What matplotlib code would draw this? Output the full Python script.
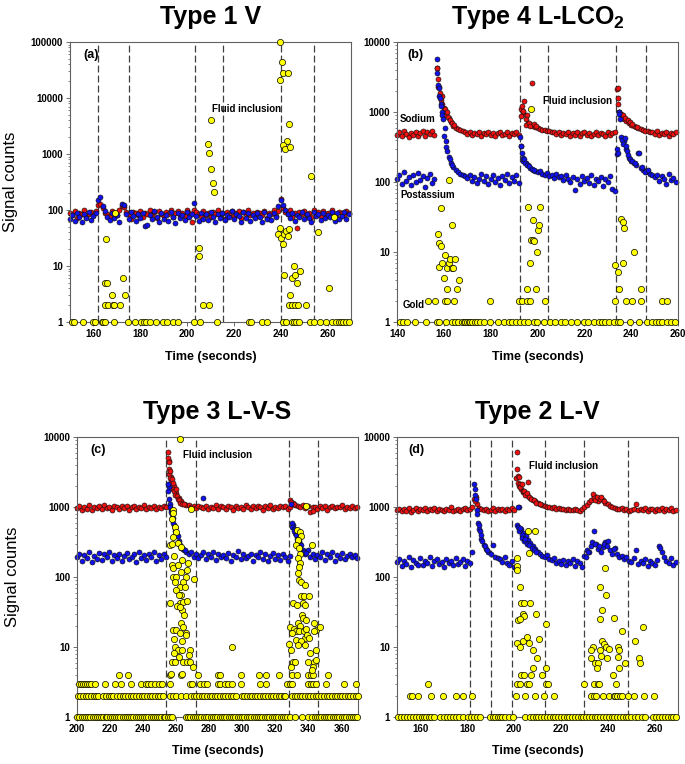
import numpy as np
import matplotlib.pyplot as plt
from matplotlib.ticker import LogLocator, FuncFormatter, NullFormatter

plt.rcParams['font.family'] = ['Liberation Sans', 'DejaVu Sans']
plt.rcParams['font.weight'] = 'bold'
plt.rcParams['mathtext.fontset'] = 'custom'
plt.rcParams['mathtext.rm'] = 'Liberation Sans:bold'
plt.rcParams['mathtext.it'] = 'Liberation Sans:bold'
plt.rcParams['mathtext.bf'] = 'Liberation Sans:bold'
plt.rcParams['mathtext.default'] = 'rm'

# ---------------- panel (a) Type 1 V ----------------
a_time = np.arange(150, 270)
a_na = [88, 80, 95, 72, 90, 84, 99, 76, 86, 92,
        81, 95, 125, 130, 110, 90, 84, 78, 96, 88,
        82, 100, 120, 115, 92, 85, 70, 94, 87, 80,
        98, 76, 89, 84, 102, 80, 91, 73, 95, 86,
        79, 93, 85, 99, 74, 88, 96, 82, 90, 77,
        102, 87, 60, 100, 92, 85, 78, 97, 83, 90,
        75, 94, 86, 101, 80, 89, 70, 93, 84, 98,
        79, 88, 95, 73, 91, 85, 100, 82, 87, 76,
        94, 89, 81, 97, 72, 90, 86, 99, 78, 95,
        160, 110, 92, 84, 100, 76, 89, 48, 93, 85,
        97, 80, 88, 74, 102, 86, 92, 79, 95, 84,
        90, 77, 99, 85, 73, 94, 88, 81, 96, 87]
a_k = [70, 82, 64, 90, 75, 60, 85, 72, 93, 67,
       78, 88, 150, 170, 120, 95, 74, 66, 89, 71,
       80, 62, 130, 125, 86, 69, 92, 77, 64, 84,
       73, 90, 52, 55, 81, 68, 95, 74, 61, 87,
       70, 83, 65, 92, 76, 59, 88, 72, 80, 66,
       91, 74, 85, 135, 78, 63, 89, 70, 84, 67,
       93, 75, 61, 86, 72, 90, 66, 81, 74, 95,
       68, 84, 77, 62, 91, 73, 87, 65, 80, 71,
       88, 76, 60, 94, 70, 83, 67, 89, 74, 120,
       150, 125, 100, 85, 72, 90, 64, 80, 76, 93,
       69, 86, 73, 61, 92, 78, 84, 66, 90, 71,
       82, 75, 94, 63, 87, 70, 79, 91, 68, 85]
a_gold_1 = [150.7, 151.7, 155.7, 159.7, 160.8, 163.5, 164.2, 164.9, 168.7, 174.8,
            177.7, 180.3, 181.5, 182.6, 184.3, 186.9, 189.7, 191.6, 194.0, 196.1,
            202.9, 205.7, 212.8, 226.6, 227.3, 231.8, 234.1, 240.8, 242.2, 244.6,
            245.8, 246.5, 247.9, 252.4, 254.3, 256.7, 259.5, 261.8, 263.5, 264.9,
            265.6, 266.5, 268.0, 269.3]
a_gold_pts = [(165.3, 30), (165.0, 5), (166.0, 5), (165.0, 2), (166.2, 2), (168.0, 3),
              (168.4, 2), (169.0, 2), (171.5, 2), (172.5, 6), (173.3, 3), (169.3, 90),
              (205.0, 21), (205.3, 15), (207.0, 2), (209.4, 2), (209.0, 1500), (209.2, 1050),
              (210.2, 4000), (210.4, 550), (211.0, 310), (211.4, 210),
              (239.5, 100000), (240.5, 44000), (239.8, 21000), (240.9, 28000), (242.9, 28000),
              (243.4, 3500), (242.6, 1700), (240.9, 1450), (241.9, 1250), (244.0, 1350),
              (238.9, 37), (239.5, 48), (240.3, 32), (240.9, 25), (241.4, 38), (242.3, 42),
              (242.9, 34), (243.7, 45), (241.4, 7), (244.0, 3), (244.8, 6), (245.7, 10),
              (246.3, 7), (247.0, 5), (248.4, 8), (243.4, 2), (244.8, 2), (246.0, 2),
              (247.4, 2), (250.8, 2), (252.8, 410), (255.7, 40), (260.7, 4), (262.7, 75)]
a_lines = [162, 175, 203.5, 215.5, 240, 254]

# ---------------- panel (b) Type 4 L-LCO2 ----------------
b_time = np.arange(140, 260)
b_na = [470, 510, 455, 530, 490, 440, 505, 475, 520, 460,
        495, 540, 450, 515, 480, 530, 465, 4200, 2300, 1700,
        1150, 950, 820, 720, 640, 600, 570, 545, 530, 515,
        490, 525, 470, 505, 480, 515, 460, 500, 485, 520,
        470, 505, 450, 495, 525, 465, 490, 510, 455, 500,
        480, 520, 470, 1100, 950, 800, 700, 660, 640, 620,
        600, 580, 560, 545, 530, 540, 510, 525, 490, 515,
        470, 505, 485, 520, 460, 500, 475, 510, 450, 495,
        520, 470, 500, 455, 490, 515, 465, 505, 480, 460,
        510, 475, 495, 520, 2100, 1000, 880, 800, 740, 700,
        660, 640, 610, 590, 570, 555, 540, 530, 520, 510,
        490, 530, 470, 505, 485, 520, 460, 500, 480, 510]
b_k = [110, 125, 95, 140, 105, 118, 90, 128, 100, 135,
       108, 122, 85, 115, 130, 98, 112, 5800, 1700, 1000,
       450, 320, 230, 190, 165, 150, 140, 132, 128, 122,
       115, 125, 105, 118, 98, 112, 130, 102, 120, 95,
       110, 128, 100, 115, 90, 122, 108, 132, 96, 118,
       104, 125, 98, 330, 200, 185, 175, 160, 150, 142,
       138, 145, 130, 128, 135, 120, 126, 115, 130, 118,
       122, 108, 125, 112, 100, 118, 78, 110, 95, 120,
       105, 115, 98, 125, 92, 110, 104, 118, 88, 112,
       100, 120, 80, 75, 250, 1000, 420, 380, 300, 220,
       200, 190, 175, 260, 160, 150, 145, 138, 130, 125,
       118, 128, 105, 122, 112, 95, 130, 108, 115, 100]
b_na_pts = [(157.0, 4300), (157.3, 3000), (157.6, 2300), (158.2, 1900), (158.6, 1500),
            (159.3, 1300), (160.4, 1100), (160.7, 900), (161.3, 1000), (161.6, 850),
            (162.5, 780), (163.5, 700), (164.5, 650), (193.3, 1200), (193.6, 1000),
            (194.0, 1050), (194.3, 1450), (193.0, 870), (195.0, 650), (195.5, 900),
            (196.5, 700), (197.0, 640), (197.7, 2600), (198.5, 680), (199.5, 630),
            (234.2, 2200), (234.5, 1600), (234.4, 1300), (234.8, 1000), (235.5, 950),
            (236.0, 850), (236.5, 900), (237.5, 820), (238.5, 760), (239.5, 720),
            (240.5, 680), (242.5, 620)]
b_k_pts = [(157.1, 3600), (157.5, 2400), (157.8, 2200), (158.3, 1600), (158.6, 1300),
           (158.9, 1200), (159.4, 900), (159.7, 800), (160.3, 600), (160.8, 380),
           (161.5, 280), (162.5, 210), (163.5, 175), (192.6, 440), (192.8, 330),
           (193.3, 260), (193.6, 220), (194.3, 210), (194.6, 190), (195.5, 175),
           (196.5, 170), (197.5, 155), (198.5, 150), (233.8, 300), (234.2, 260),
           (234.6, 950), (235.2, 800), (235.5, 440), (236.2, 400), (236.6, 350),
           (237.3, 420), (237.7, 330), (238.3, 280), (238.7, 240), (239.5, 215),
           (240.5, 200), (241.5, 185), (243.2, 260), (244.5, 165), (246.0, 140),
           (247.0, 150)]
b_gold_1 = [141.3, 142.7, 144.1, 147.7, 152.4, 157.2, 158.1, 160.9, 163.4, 164.8,
            166.2, 167.6, 168.4, 169.1, 169.8, 170.6, 171.3, 172.1, 173.2, 174.2,
            175.5, 177.1, 179.6, 183.2, 185.6, 187.7, 189.1, 190.9, 192.4, 194.1,
            195.9, 198.4, 199.8, 202.7, 205.5, 207.6, 210.1, 211.9, 214.1, 216.9,
            219.8, 221.5, 224.1, 226.2, 227.6, 229.0, 230.5, 232.6, 234.3, 235.4,
            239.7, 243.3, 246.8, 249.0, 250.4, 251.8, 253.2, 255.4, 256.8, 258.5]
b_gold_2 = [153.4, 156.2, 160.6, 161.5, 164.4, 179.9, 192.0, 193.4, 195.3, 197.0,
            203.4, 233.3, 237.6, 240.4, 244.4, 253.2, 255.4]
b_gold_pts = [(157.7, 17.9), (158.1, 13.3), (158.7, 12), (158.7, 42), (158.1, 6.1),
              (159.1, 6.9), (160.5, 9), (161.2, 6), (162.1, 7), (162.7, 8), (163.3, 6),
              (164.8, 8), (164.1, 6), (160.1, 4.2), (161.2, 3), (165.8, 3), (166.4, 4),
              (162.1, 108), (163.4, 24),
              (196.0, 43.6), (201.0, 43.6), (198.0, 28.6), (197.4, 15), (198.1, 14.8),
              (198.7, 14.2), (197.0, 6.9), (199.8, 10.1), (200.0, 20.6), (200.5, 24.2),
              (195.3, 3), (199.5, 3), (197.3, 1100),
              (233.3, 6.5), (234.4, 5.1), (235.0, 3), (235.8, 29.6), (236.4, 26.6),
              (237.1, 21.8), (236.5, 7), (241.4, 10.1), (244.0, 3)]
b_lines = [192.5, 204.5, 233.5, 246.5]

# ---------------- panel (c) Type 3 L-V-S ----------------
c_time = np.arange(200, 370, 1.5)
c_na = [980, 1040, 920, 1010, 950, 1060, 900, 1000, 970, 1030,
        940, 1070, 960, 1005, 910, 1045, 985, 930, 1020, 955,
        1050, 915, 990, 1035, 945, 1000, 965, 1080, 925, 1010,
        975, 1040, 935, 1015, 960, 1025, 990, 4600, 2700, 2000,
        1600, 1350, 1200, 1110, 1060, 1080, 1010, 1050, 970, 1030,
        1000, 960, 1040, 925, 1010, 980, 1060, 940, 1020, 990,
        950, 1035, 1000, 915, 1050, 970, 1010, 940, 1065, 985,
        930, 1020, 960, 1045, 990, 910, 1030, 975, 1055, 945,
        1005, 960, 1040, 985, 1020, 950, 1010, 1150, 1080, 1040,
        1000, 1060, 980, 1020, 850, 990, 1010, 940, 1030, 970,
        1050, 920, 1000, 1035, 960, 1015, 985, 1070, 940, 1010,
        975, 1040, 955, 1000]
c_k = [190, 215, 170, 205, 185, 225, 165, 200, 180, 220,
       175, 210, 195, 230, 168, 205, 188, 215, 172, 200,
       220, 178, 195, 210, 165, 225, 185, 205, 175, 215,
       190, 228, 170, 208, 182, 212, 195, 1900, 900, 550,
       420, 330, 270, 240, 225, 210, 230, 195, 215, 185,
       205, 225, 180, 210, 195, 230, 175, 215, 190, 208,
       185, 220, 170, 205, 195, 235, 178, 210, 188, 200,
       215, 172, 205, 190, 225, 180, 210, 168, 200, 220,
       183, 205, 175, 215, 192, 170, 200, 560, 420, 330,
       260, 225, 210, 240, 195, 215, 180, 205, 190, 225,
       175, 210, 195, 228, 168, 205, 185, 220, 178, 200,
       215, 190, 205, 185]
c_na_pts = [(255.0, 6100), (255.2, 5000), (255.6, 4400), (255.4, 3500), (255.8, 3000),
            (256.2, 3300), (256.5, 2600), (256.8, 2300), (257.5, 2500), (257.8, 2200),
            (258.0, 1800), (258.8, 1700), (259.3, 1500), (259.7, 1800), (260.5, 1450),
            (261.3, 1300), (262.0, 1250), (262.5, 1150), (263.5, 1120), (264.5, 1100),
            (328.8, 1250), (329.5, 1180), (331.0, 1100), (343.0, 870)]
c_k_pts = [(255.0, 2100), (255.3, 1700), (255.7, 1300), (256.0, 1100), (256.3, 1000),
           (256.6, 850), (257.4, 800), (257.8, 700), (258.2, 600), (259.0, 500),
           (259.5, 450), (260.5, 400), (261.0, 380), (262.0, 300), (262.5, 290),
           (263.0, 260), (264.0, 250), (265.5, 240), (276.0, 1350), (329.3, 1100),
           (329.8, 600), (330.2, 520), (331.0, 480), (331.5, 450), (332.5, 400),
           (333.0, 350), (334.2, 330), (334.8, 300), (335.5, 290), (336.5, 240),
           (337.5, 230), (338.5, 220)]
c_gold_1 = [200.3, 201.5, 202.9, 204.1, 205.6, 206.8, 208.0, 209.5, 210.6, 212.0,
            213.4, 214.5, 215.9, 217.3, 218.4, 219.8, 221.2, 222.3, 223.7, 225.1,
            226.2, 227.6, 229.0, 230.1, 231.5, 232.9, 234.0, 235.4, 236.8, 237.9,
            239.3, 240.7, 241.8, 243.2, 244.6, 245.7, 247.1, 248.5, 249.6, 251.0,
            252.4, 253.5, 254.9, 256.3, 257.6,
            265.8, 267.1, 268.5, 269.9, 271.2, 272.6, 274.0, 275.3, 276.7, 278.1,
            279.4, 280.8, 282.2, 283.5, 284.9, 286.3, 287.6, 289.0, 290.4, 291.7,
            293.1, 294.5, 295.8, 297.2, 298.6, 299.9, 301.3, 302.7, 304.0, 305.4,
            306.8, 308.1, 309.5, 310.9, 312.2, 313.6, 315.0, 316.3, 317.7, 319.1,
            320.4, 321.8, 323.2, 324.5, 325.9, 327.3, 328.6,
            331.9, 336.2, 339.6, 342.4, 343.8, 345.1, 346.5, 347.9, 349.2, 350.6,
            352.0, 353.3, 354.7, 356.1, 357.4, 358.8, 360.2, 361.5, 362.9, 364.3,
            365.6, 367.0, 368.4, 369.7]
c_gold_2 = [200.5, 202.1, 203.7, 205.3, 206.9, 208.5, 210.1, 211.7, 213.0, 216.0,
            217.6, 219.2, 220.8, 222.0, 224.5, 226.1, 227.7, 229.3, 230.9, 232.5,
            234.0, 236.0, 237.6, 239.2, 240.8, 242.4, 244.0, 245.6, 247.2, 248.8,
            250.0, 252.0, 256.4, 258.2, 260.1, 263.2, 266.0, 269.0, 270.6, 272.2,
            273.8, 275.4, 277.0, 278.6, 280.2, 281.8, 283.4, 285.0, 286.6, 288.2,
            289.8, 291.4, 293.0, 294.6, 296.5, 299.6, 301.2, 302.8, 304.4, 306.0,
            307.6, 309.2, 310.8, 312.4, 314.0, 315.6, 317.2, 318.8, 320.4, 322.0,
            323.6, 325.2, 326.0, 330.0, 331.6, 333.2, 334.8, 336.4, 338.0, 339.6,
            341.2, 342.8, 344.4, 346.0, 347.6, 349.2, 351.0, 352.6, 354.2, 355.8,
            357.4, 359.0, 360.6, 362.2, 363.8, 365.4, 367.0, 368.6, 369.8]
c_gold_3 = [201.0, 202.2, 203.6, 204.8, 206.0, 207.2, 208.5, 210.9, 216.9, 222.8,
            226.8, 232.9, 239.0, 241.5, 243.0, 245.0, 247.0, 249.6, 251.7, 256.1,
            268.2, 269.4, 274.2, 276.6, 278.6, 285.3, 286.7, 289.4, 291.4, 293.8,
            299.0, 310.5, 314.6, 327.0, 328.7, 330.3, 339.7, 341.8, 342.8, 344.4,
            350.9, 361.4, 369.0]
c_gold_4 = [225.2, 230.9, 256.1, 263.2, 273.4, 285.3, 286.7, 299.0, 310.0, 314.6,
            322.2, 330.3, 333.3, 340.0, 341.5, 342.6, 351.8]
c_gold_pts = [(262.1, 9270), (258.2, 906), (258.1, 830), (268.8, 946), (257.6, 667),
              (259.2, 523), (260.2, 444), (257.8, 377), (256.2, 287), (257.2, 300),
              (261.2, 310), (263.2, 271), (258.6, 200), (263.8, 175), (267.2, 157),
              (257.2, 148), (258.2, 133), (261.2, 148), (266.6, 126), (257.8, 101),
              (259.8, 101), (263.2, 119), (265.8, 101), (270.6, 94), (259.2, 86),
              (264.2, 86), (262.6, 73), (260.2, 65), (265.2, 73), (263.2, 55),
              (261.6, 55), (256.2, 42), (262.6, 42), (264.2, 44), (266.6, 46),
              (260.6, 38.5), (263.8, 33.8), (262.2, 37), (264.6, 28.6), (258.2, 17.5),
              (260.2, 17.5), (263.2, 21.8), (264.2, 19.3), (265.8, 16), (266.2, 14.8),
              (258.8, 12.9), (262.6, 15.7), (263.4, 12.3), (259.2, 10.1), (261.2, 9.1),
              (263.6, 9.1), (268.2, 9.1), (258.6, 8.3), (267.8, 7.8), (261.8, 7.3),
              (264.2, 6.2), (257.2, 6.2), (259.2, 6.2), (266.6, 6.2), (268.2, 6.2),
              (270.2, 5.1), (256.6, 4.1), (263.4, 4.1), (294.0, 10),
              (338.4, 1033), (342.4, 287), (333.1, 469), (334.7, 445), (335.7, 385),
              (333.7, 338), (332.7, 287), (334.3, 256), (335.1, 213), (333.7, 185),
              (334.7, 160), (334.3, 140), (333.7, 113), (334.3, 91), (335.7, 86),
              (337.7, 77), (335.7, 54), (337.1, 54), (340.3, 54), (330.7, 42),
              (333.1, 40), (336.7, 43), (337.7, 40), (336.3, 28.6), (336.7, 26),
              (338.3, 24), (333.7, 21.8), (335.1, 20), (328.7, 19), (331.1, 18.3),
              (332.7, 17), (334.3, 17), (337.1, 17), (338.7, 18), (343.5, 22.3),
              (344.7, 17.5), (347.2, 19), (343.1, 17), (330.3, 16), (337.7, 13.5),
              (339.1, 15), (328.3, 11), (332.7, 12.5), (335.7, 12.3), (333.7, 10.6),
              (337.7, 10.6), (340.3, 13.5), (341.1, 8.3), (344.7, 9.1), (329.3, 9.1),
              (330.7, 6.2), (331.7, 6.2), (339.7, 6.2), (343.1, 6.2), (329.7, 5.1),
              (342.7, 5.1), (344.3, 6.5), (341.9, 4.7)]
c_lines = [254, 272, 328, 346]

# ---------------- panel (d) Type 2 L-V ----------------
d_time = np.arange(150, 270)
d_na = [900, 950, 870, 930, 890, 960, 860, 920, 980, 880,
        940, 895, 965, 870, 925, 900, 955, 880, 935, 910,
        870, 945, 900, 985, 865, 920, 950, 890, 930, 975,
        905, 940, 1000, 1300, 1100, 960, 930, 900, 945, 880,
        920, 960, 890, 935, 905, 950, 875, 930, 910, 960,
        900, 2600, 2000, 1800, 1650, 1550, 1450, 1350, 1280, 1200,
        1150, 1100, 1080, 1040, 1010, 990, 960, 1000, 940, 970,
        930, 950, 900, 940, 915, 895, 930, 910, 880, 950,
        1000, 1080, 1180, 1250, 1450, 1300, 1200, 1350, 1250, 1150,
        1100, 1050, 1000, 970, 950, 930, 960, 900, 940, 880,
        920, 950, 1100, 895, 935, 905, 960, 870, 925, 950,
        890, 940, 910, 965, 880, 930, 900, 955, 870, 915]
d_k = [165, 180, 145, 170, 155, 190, 140, 175, 160, 150,
       185, 148, 172, 158, 195, 142, 168, 178, 152, 165,
       140, 182, 160, 170, 148, 188, 155, 165, 178, 145,
       168, 160, 230, 2100, 900, 480, 350, 290, 250, 225,
       215, 290, 195, 185, 178, 165, 190, 160, 150, 170,
       140, 130, 1000, 480, 420, 380, 340, 310, 280, 255,
       230, 215, 200, 190, 205, 180, 175, 185, 160, 170,
       155, 175, 148, 168, 160, 180, 145, 170, 158, 140,
       200, 240, 225, 280, 460, 300, 250, 230, 270, 320,
       330, 240, 215, 260, 210, 195, 200, 180, 190, 170,
       165, 185, 240, 155, 172, 160, 180, 145, 168, 158,
       150, 175, 280, 230, 195, 170, 160, 185, 150, 165]
d_na_pts = [(201.2, 6100), (201.4, 3500), (201.6, 2800), (201.8, 2200), (202.2, 2700),
            (202.4, 2100), (202.6, 1900), (203.3, 2100), (203.6, 1700), (204.3, 1700),
            (204.6, 1500), (205.4, 1600), (205.8, 2300), (206.5, 1400), (207.3, 1300),
            (208.5, 1250), (209.5, 1150), (211.0, 1100), (233.5, 1550), (234.3, 1350),
            (234.6, 1250), (235.5, 1400), (236.5, 1300), (237.3, 1400), (238.5, 1200),
            (183.3, 1200), (183.7, 1400)]
d_k_pts = [(183.2, 1800), (183.4, 1500), (183.8, 1300), (184.2, 800), (184.5, 600),
           (184.8, 560), (185.3, 450), (185.7, 400), (186.5, 330), (187.5, 280),
           (188.5, 240), (201.3, 550), (201.5, 1000), (201.7, 520), (202.3, 450),
           (202.6, 500), (203.2, 400), (203.5, 360), (204.3, 330), (204.7, 350),
           (205.5, 300), (206.3, 290), (207.5, 260), (208.7, 240), (209.5, 230),
           (233.4, 320), (234.5, 300), (236.3, 280), (238.5, 300), (239.5, 280),
           (242.5, 250), (230.5, 190), (231.5, 230), (262.5, 260)]
d_gold_1 = [150.5, 151.8, 153.0, 154.2, 155.5, 156.8, 158.0, 159.2, 160.5, 161.5,
            162.5, 163.5, 164.5, 165.6, 168.3, 170.0, 171.3, 172.6, 174.0, 175.3,
            176.6, 178.0, 180.3, 181.5, 182.8, 184.0, 185.3, 189.6, 190.8, 192.0,
            193.0, 194.0, 195.0, 196.2, 198.0, 199.5, 204.8, 206.8, 208.0, 209.2,
            210.4, 211.6, 212.8, 214.0, 215.2, 216.4, 217.6, 218.8, 220.0, 221.2,
            222.4, 223.6, 224.8, 226.0, 227.2, 228.4, 229.6, 230.8, 232.0, 233.2,
            234.4, 235.6, 236.8, 238.0, 239.2, 240.4, 241.6, 242.8, 244.0, 245.2,
            246.4, 247.6, 248.8, 250.0, 251.5, 253.0, 254.5, 256.0, 259.5, 260.8,
            262.0, 263.2, 264.4, 265.6, 266.8, 268.0, 269.3]
d_gold_2 = [155.7, 156.4, 159.0, 164.6, 169.6, 175.2, 178.0, 182.0, 200.8, 204.6,
            209.0, 212.6, 216.9, 232.7, 234.0, 234.8, 237.8, 240.6, 242.5, 243.2,
            244.1, 245.3, 246.0, 248.6, 251.3, 255.6, 259.6]
d_gold_3 = [163.2, 201.3, 202.7, 205.4, 206.4, 213.6, 214.3, 230.0, 234.2, 235.7,
            236.4, 243.4]
d_gold_pts = [(201.4, 189), (201.3, 144), (201.2, 126), (202.4, 72), (205.8, 459),
              (208.8, 450), (206.5, 219), (203.0, 43), (204.2, 43), (206.6, 43),
              (203.6, 30), (204.2, 28), (201.7, 24), (202.7, 25), (209.5, 30),
              (213.8, 21), (201.1, 11.5), (202.6, 10), (204.0, 12), (205.7, 14),
              (206.4, 11.5), (207.9, 9), (210.6, 13), (209.6, 7), (208.2, 5),
              (213.7, 5), (211.7, 4), (202.9, 4), (204.3, 4), (207.3, 4),
              (239.0, 136), (236.8, 73), (239.3, 55), (237.5, 34), (236.8, 25),
              (242.5, 26), (245.9, 17), (255.0, 19), (251.5, 12), (233.7, 10),
              (233.0, 9), (237.7, 12), (238.4, 11), (239.3, 10), (236.8, 9),
              (240.4, 9.5), (244.3, 10), (244.8, 9), (237.2, 7.5), (239.7, 7),
              (244.4, 7.2), (232.7, 7), (234.4, 6), (236.0, 6), (235.4, 5),
              (244.7, 5), (247.5, 6), (253.4, 7), (253.8, 6), (242.4, 4)]
d_lines = [181, 190, 199, 213, 230, 248.5]

RED = '#f01010'
BLUE = '#1010f0'
YELLOW = '#ffff00'
EDGE = '#101010'


def draw_panel(ax, t, na, k, na_pts, k_pts, gold_rows, gold_pts, lines, xlim, ytop, xticks):
    for x in lines:
        ax.axvline(x, color='#404040', lw=0.9, ls=(0, (5.5, 2.5)), zorder=1)
    pts = dict(edgecolors=EDGE, linewidths=0.45, s=13, zorder=2, clip_on=False)
    ax.scatter(t, na, c=RED, **pts)
    if na_pts:
        ax.scatter([p[0] for p in na_pts], [p[1] for p in na_pts], c=RED, **pts)
    ax.scatter(t, k, c=BLUE, **pts)
    if k_pts:
        ax.scatter([p[0] for p in k_pts], [p[1] for p in k_pts], c=BLUE, **pts)
    gpts = dict(c=YELLOW, edgecolors='black', linewidths=0.5, s=20, zorder=3, clip_on=False)
    for level, times in gold_rows:
        ax.scatter(times, [level] * len(times), **gpts)
    ax.scatter([p[0] for p in gold_pts], [p[1] for p in gold_pts], **gpts)

    ax.set_yscale('log')
    ax.set_ylim(1, ytop)
    ax.set_xlim(*xlim)
    ax.set_xticks(xticks)
    ax.yaxis.set_major_locator(LogLocator(base=10, numticks=10))
    ax.yaxis.set_minor_locator(LogLocator(base=10, subs=range(2, 10), numticks=20))
    ax.yaxis.set_minor_formatter(NullFormatter())
    ax.yaxis.set_major_formatter(FuncFormatter(lambda v, p: f'{int(round(v))}'))
    ax.tick_params(axis='both', which='major', direction='out', length=3, width=0.6,
                   labelsize=7, color='#555555', pad=2)
    ax.tick_params(axis='y', which='minor', direction='out', length=1.5, width=0.5,
                   color='#555555')
    for sp in ax.spines.values():
        sp.set_color('#606060')
        sp.set_linewidth(0.8)
    ax.set_xlabel('Time (seconds)', fontsize=9, fontweight='bold')


fig = plt.figure(figsize=(6.85, 7.64), dpi=100)
ax_a = fig.add_axes([0.1022, 0.5785, 0.4102, 0.3665])
ax_b = fig.add_axes([0.5796, 0.5785, 0.4102, 0.3665])
ax_c = fig.add_axes([0.1124, 0.0615, 0.4102, 0.3665])
ax_d = fig.add_axes([0.5796, 0.0615, 0.4102, 0.3665])

draw_panel(ax_a, a_time, a_na, a_k, [], [], [(1, a_gold_1)], a_gold_pts, a_lines,
           (150, 270), 100000, [160, 180, 200, 220, 240, 260])
draw_panel(ax_b, b_time, b_na, b_k, b_na_pts, b_k_pts, [(1, b_gold_1), (2, b_gold_2)],
           b_gold_pts, b_lines, (140, 260), 10000, [140, 160, 180, 200, 220, 240, 260])
draw_panel(ax_c, c_time, c_na, c_k, c_na_pts, c_k_pts,
           [(1, c_gold_1), (2, c_gold_2), (3, c_gold_3), (4, c_gold_4)],
           c_gold_pts, c_lines, (200, 370), 10000,
           [200, 220, 240, 260, 280, 300, 320, 340, 360])
draw_panel(ax_d, d_time, d_na, d_k, d_na_pts, d_k_pts,
           [(1, d_gold_1), (2, d_gold_2), (3, d_gold_3)],
           d_gold_pts, d_lines, (150, 270), 10000, [160, 180, 200, 220, 240, 260])

ax_a.set_title('Type 1 V', fontsize=18, fontweight='bold', pad=13)
ax_b.set_title('Type 4 L-LCO$_2$', fontsize=18, fontweight='bold', pad=13)
ax_c.set_title('Type 3 L-V-S', fontsize=18, fontweight='bold', pad=13)
ax_d.set_title('Type 2 L-V', fontsize=18, fontweight='bold', pad=13)

for ax in (ax_a, ax_b):
    ax.xaxis.set_label_coords(0.5, -0.105)
for ax in (ax_c, ax_d):
    ax.xaxis.set_label_coords(0.5, -0.10)

ax_a.set_ylabel('Signal counts', fontsize=12, fontweight='normal')
ax_a.yaxis.set_label_coords(-0.185, 0.5)
ax_c.set_ylabel('Signal counts', fontsize=12, fontweight='normal')
ax_c.yaxis.set_label_coords(-0.203, 0.5)

for ax, lab, xpos in ((ax_a, '(a)', 0.046), (ax_b, '(b)', 0.036),
                      (ax_c, '(c)', 0.046), (ax_d, '(d)', 0.039)):
    ax.text(xpos, 0.955, lab, transform=ax.transAxes, fontsize=9, va='center', ha='left')

ax_a.text(210.5, 6300, 'Fluid inclusion', fontsize=7, va='center', ha='left', zorder=4)
ax_b.text(202.4, 1435, 'Fluid inclusion', fontsize=7, va='center', ha='left', zorder=4)
ax_c.text(264.1, 5530, 'Fluid inclusion', fontsize=7, va='center', ha='left', zorder=4)
ax_d.text(206.2, 3850, 'Fluid inclusion', fontsize=7, va='center', ha='left', zorder=4)
ax_b.text(141.3, 794, 'Sodium', fontsize=7, va='center', ha='left', zorder=4)
ax_b.text(141.3, 65, 'Postassium', fontsize=7, va='center', ha='left', zorder=4)
ax_b.text(142.5, 1.75, 'Gold', fontsize=7, va='center', ha='left', zorder=4)

fig.savefig('out.png', dpi=100)
